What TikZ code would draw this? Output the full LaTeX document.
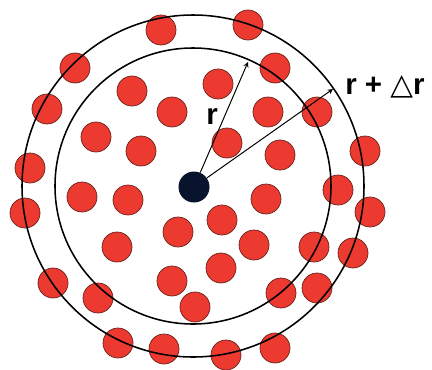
\documentclass[tikz,border=0pt]{standalone}
\usepackage{fontspec}
\setmainfont{Liberation Sans}
\newfontfamily\trifont{DejaVu Sans}
\definecolor{ballred}{RGB}{236,58,48}
\definecolor{balledge}{RGB}{105,35,30}
\definecolor{dotblue}{RGB}{8,20,45}
\tikzset{
  ball/.style={circle,fill=ballred,draw=balledge,line width=0.5pt,minimum size=30*0.025cm,inner sep=0pt},
  ring/.style={line width=1.1pt,black},
  radius arrow/.style={->,>=stealth,line width=0.7pt,black},
  label text/.style={font=\fontsize{21}{25}\selectfont\bfseries,inner sep=0pt}
}
\begin{document}
\begin{tikzpicture}[x=0.025cm,y=-0.025cm]
\useasboundingbox (0,0) rectangle (432,369);

% particles
\foreach \px/\py [count=\i] in {161/30, 248/25, 75/68, 275/68, 218/84, 132/91,
  47/109, 172/112, 268/112, 317/112, 96/137, 141/151, 227/143, 280/155,
  365/151, 30/168, 82/197, 128/200, 266/199, 338/190, 25/213, 370/212,
  222/220, 178/232, 254/245, 314/247, 117/247, 353/253, 221/268, 172/281,
  53/283, 281/293, 317/288, 98/298, 195/307, 118/343, 164/349, 226/355,
  275/348}
  \node[ball] (p\i) at (\px,\py) {};

% shells
\coordinate (o) at (193,186);
\draw[ring] (o) circle[radius=138];
\draw[ring] (o) circle[radius=171];

% reference particle
\node[circle,fill=dotblue,minimum size=31*0.025cm,inner sep=0pt] (c) at (194,187) {};

\coordinate (rtip) at (248,62);
\coordinate (drtip) at (333,89);
\draw[radius arrow] (c) -- (rtip);
\draw[radius arrow] (c) -- (drtip);

\node[label text] (rlab) at (212,117) {r};
\node[label text,anchor=west] (drlab) at (345,87) {r + {\trifont △}r};
\end{tikzpicture}
\end{document}
